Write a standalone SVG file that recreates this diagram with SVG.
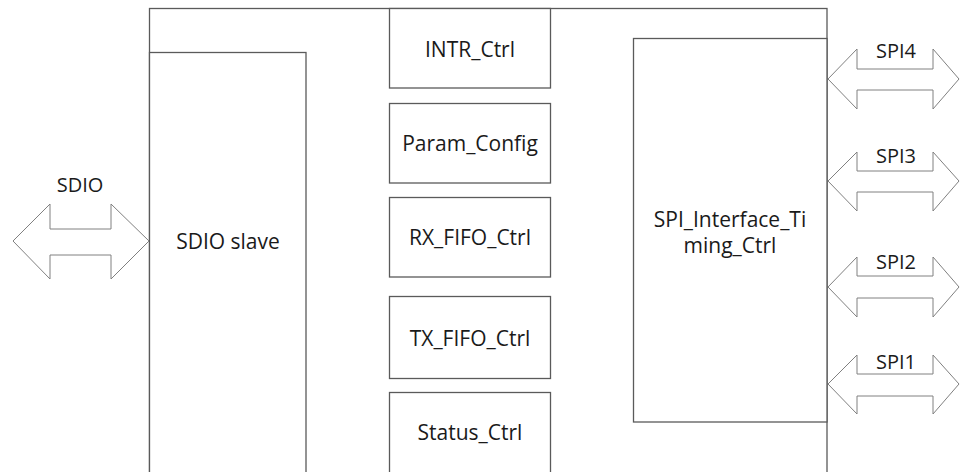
<svg xmlns="http://www.w3.org/2000/svg" width="960" height="472" viewBox="0 0 960 472">
<style>
.box{fill:#fff;stroke:#5a5a5a;stroke-width:1.3}
.arr{fill:#fff;stroke:#808080;stroke-width:1}
.t{font-family:"Open Sans","Noto Sans",sans-serif;font-size:21px;fill:#1a1a1a;text-anchor:middle}
.lt{font-family:"Open Sans","Noto Sans",sans-serif;font-size:20px;fill:#1a1a1a;text-anchor:middle}
</style>
<rect width="960" height="472" fill="#fff"/>
<g id="outer"><rect class="box" x="149.5" y="8.5" width="677.5" height="480"/></g>
<g id="sdio_slave"><rect class="box" x="149.5" y="52.5" width="156.5" height="440"/><text class="t" x="228" y="249">SDIO slave</text></g>
<g id="intr_ctrl"><rect class="box" x="389.5" y="8.5" width="161" height="79.5"/><text class="t" x="470" y="57">INTR_Ctrl</text></g>
<g id="param_config"><rect class="box" x="389.5" y="103.5" width="161" height="79.5"/><text class="t" x="470" y="151">Param_Config</text></g>
<g id="rx_fifo_ctrl"><rect class="box" x="389.5" y="197.5" width="161" height="79.5"/><text class="t" x="470" y="245">RX_FIFO_Ctrl</text></g>
<g id="tx_fifo_ctrl"><rect class="box" x="389.5" y="296.5" width="161" height="82"/><text class="t" x="470" y="346">TX_FIFO_Ctrl</text></g>
<g id="status_ctrl"><rect class="box" x="389.5" y="392.5" width="161" height="100"/><text class="t" x="470" y="440">Status_Ctrl</text></g>
<g id="spi_timing"><rect class="box" x="633.5" y="38.5" width="193.5" height="383.5"/><text class="t" x="730" y="227">SPI_Interface_Ti</text><text class="t" x="730" y="253">ming_Ctrl</text></g>
<g id="connectors">
<g id="sdio_arrow"><path class="arr" d="M13,241 L50,204 L50,229 L111,229 L111,204 L149,241 L111,279 L111,255 L50,255 L50,279 Z"/><text class="lt" x="80" y="192">SDIO</text></g>
<g id="spi4"><path class="arr" d="M828,79 L857,49 L857,69 L933,69 L933,49 L959,79 L933,109 L933,90 L857,90 L857,109 Z"/><text class="lt" x="896" y="58">SPI4</text></g>
<g id="spi3"><path class="arr" d="M828,181 L857,152 L857,171 L933,171 L933,152 L959,181 L933,211 L933,192 L857,192 L857,211 Z"/><text class="lt" x="896" y="163">SPI3</text></g>
<g id="spi2"><path class="arr" d="M828,287 L857,257 L857,276 L933,276 L933,257 L959,287 L933,317 L933,298 L857,298 L857,317 Z"/><text class="lt" x="896" y="269">SPI2</text></g>
<g id="spi1"><path class="arr" d="M828,384 L857,355 L857,374 L933,374 L933,355 L959,384 L933,414 L933,396 L857,396 L857,414 Z"/><text class="lt" x="896" y="369">SPI1</text></g>
</g>
</svg>
